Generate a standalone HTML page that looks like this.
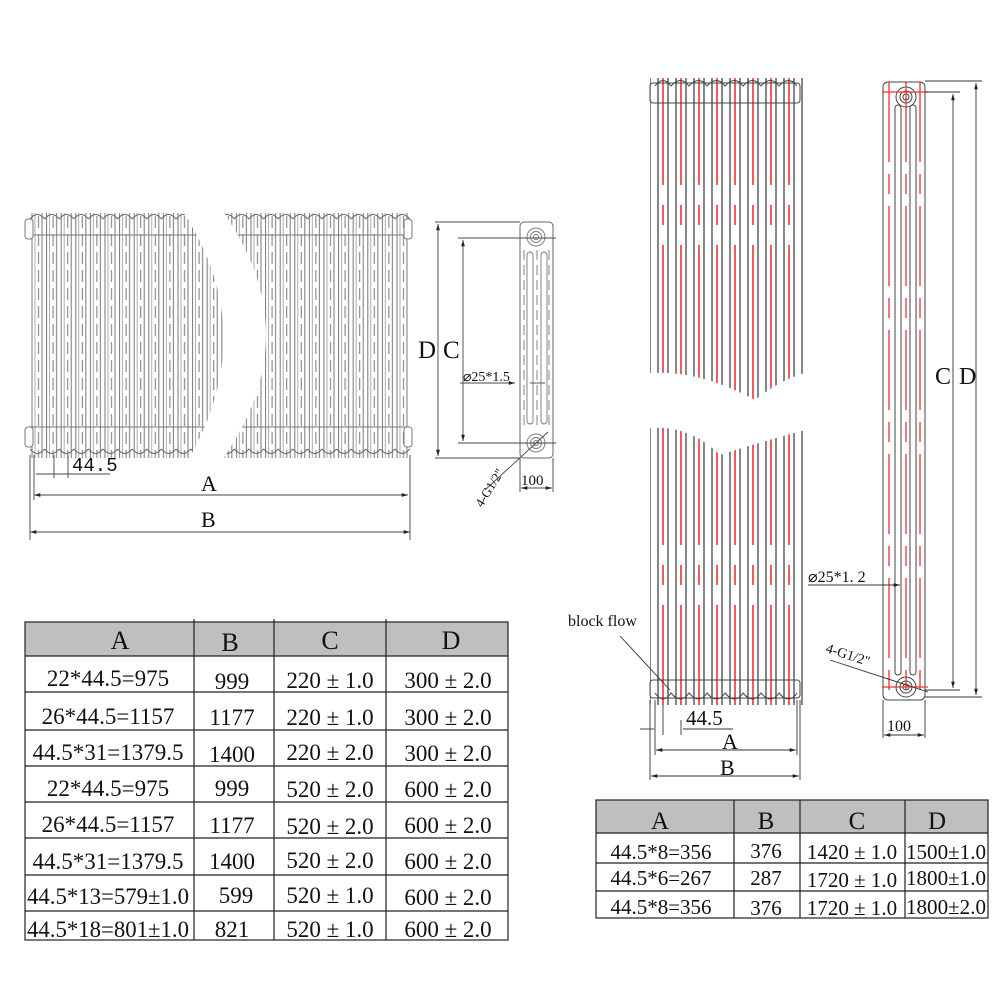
<!DOCTYPE html>
<html><head><meta charset="utf-8"><style>
html,body{margin:0;padding:0;background:#fff}
svg{display:block}
text{font-family:"Liberation Serif","Noto Serif CJK SC",serif;fill:#111}
.mono{font-family:"Liberation Mono",monospace}
</style></head><body>
<svg width="1001" height="1001" viewBox="0 0 1001 1001" xmlns="http://www.w3.org/2000/svg">
<defs>
<pattern id="tubeL" patternUnits="userSpaceOnUse" x="30" y="0" width="14.6" height="1000">
<line x1="2" y1="0" x2="2" y2="1000" stroke="#777" stroke-width="1"/>
<line x1="5" y1="0" x2="5" y2="1000" stroke="#999" stroke-width="0.8"/>
<line x1="12" y1="0" x2="12" y2="1000" stroke="#777" stroke-width="1"/>
<line x1="8.5" y1="0" x2="8.5" y2="1000" stroke="#777" stroke-width="1" stroke-dasharray="12,6"/>
</pattern>
<pattern id="scL1" patternUnits="userSpaceOnUse" x="30" y="213" width="14.6" height="30">
<path d="M0,6 Q7.3,-3 14.6,6" fill="none" stroke="#666"/>
<line x1="0" y1="22" x2="14.6" y2="22" stroke="#777"/>
</pattern>
<pattern id="scL2" patternUnits="userSpaceOnUse" x="30" y="425" width="14.6" height="32">
<line x1="0" y1="2" x2="14.6" y2="2" stroke="#777"/>
<path d="M0,24 Q7.3,33 14.6,24" fill="none" stroke="#666"/>
</pattern>
<pattern id="tubeR" patternUnits="userSpaceOnUse" x="654" y="0" width="18" height="1000">
<line x1="4" y1="0" x2="4" y2="1000" stroke="#444" stroke-width="1.3"/>
<line x1="14" y1="0" x2="14" y2="1000" stroke="#444" stroke-width="1.3"/>
<line x1="9" y1="0" x2="9" y2="1000" stroke="#e33" stroke-width="1.6" stroke-dasharray="185,20,20,20,300,20,20,20,200"/>
</pattern>
<clipPath id="cl1"><path d="M25,210 L182,210 Q262,332 188,460 L25,460 Z"/></clipPath>
<clipPath id="cl2"><path d="M222,210 L412,210 L412,460 L222,460 Q310,335 222,210 Z"/></clipPath>
<clipPath id="cr1"><path d="M650,78 L805,78 L805,373 Q780,380 755,400 Q700,370 650,373 Z"/></clipPath>
<clipPath id="cr2"><path d="M650,428 Q690,425 720,455 Q750,445 805,430 L805,705 L650,705 Z"/></clipPath>
<marker id="ar" viewBox="0 0 10 10" refX="10" refY="5" markerWidth="7" markerHeight="7" orient="auto-start-reverse"><path d="M0,2 L10,5 L0,8 Z" fill="#222"/></marker>
</defs>

<g clip-path="url(#cl1)">
<rect x="30" y="213" width="380" height="245" fill="url(#tubeL)"/>
<rect x="30" y="213" width="380" height="30" fill="url(#scL1)"/>
<rect x="30" y="425" width="380" height="32" fill="url(#scL2)"/>
</g>
<g clip-path="url(#cl2)">
<rect x="30" y="213" width="380" height="245" fill="url(#tubeL)"/>
<rect x="30" y="213" width="380" height="30" fill="url(#scL1)"/>
<rect x="30" y="425" width="380" height="32" fill="url(#scL2)"/>
</g>
<rect x="25" y="219" width="8" height="20" rx="3" fill="#fff" stroke="#777"/>
<rect x="25" y="427" width="8" height="20" rx="3" fill="#fff" stroke="#777"/>
<rect x="404" y="219" width="8" height="20" rx="3" fill="#fff" stroke="#777"/>
<rect x="404" y="427" width="8" height="20" rx="3" fill="#fff" stroke="#777"/>
<g stroke="#444" stroke-width="0.9" fill="none">
<line x1="30" y1="455" x2="30" y2="540"/><line x1="410" y1="455" x2="410" y2="540"/>
<line x1="34" y1="455" x2="34" y2="500"/><line x1="54" y1="455" x2="54" y2="478"/><line x1="68" y1="455" x2="68" y2="478"/>
<line x1="36" y1="474" x2="110" y2="474"/>
<line x1="34" y1="495" x2="408" y2="495" marker-start="url(#ar)" marker-end="url(#ar)"/>
<line x1="30" y1="532" x2="410" y2="532" marker-start="url(#ar)" marker-end="url(#ar)"/>
</g>
<text x="72" y="471" font-size="19" class="mono">44.5</text>
<text x="201" y="491" font-size="22">A</text>
<text x="201" y="527" font-size="22">B</text>

<rect x="520" y="222" width="33" height="236" rx="4" fill="#fff" stroke="#666"/>
<g stroke="#777" fill="none" stroke-width="0.9">
<rect x="527" y="252" width="6" height="172" rx="3"/>
<rect x="541" y="252" width="6" height="172" rx="3"/>
<line x1="524" y1="250" x2="524" y2="430" stroke-dasharray="10,5"/>
<line x1="537" y1="250" x2="537" y2="430" stroke-dasharray="10,5"/>
<line x1="549" y1="250" x2="549" y2="430" stroke-dasharray="10,5"/>
<circle cx="536" cy="237" r="9"/><circle cx="536" cy="237" r="5.5"/><circle cx="536" cy="237" r="2.5"/>
<circle cx="536" cy="443" r="9"/><circle cx="536" cy="443" r="5.5"/><circle cx="536" cy="443" r="2.5"/>
</g>
<g stroke="#444" stroke-width="0.9" fill="none">
<line x1="435" y1="222" x2="520" y2="222"/><line x1="435" y1="458" x2="520" y2="458"/>
<line x1="458" y1="238" x2="556" y2="238"/><line x1="458" y1="443" x2="556" y2="443"/>
<line x1="438" y1="224" x2="438" y2="456" marker-start="url(#ar)" marker-end="url(#ar)"/>
<line x1="463" y1="240" x2="463" y2="441" marker-start="url(#ar)" marker-end="url(#ar)"/>
<line x1="460" y1="383" x2="515" y2="383" marker-end="url(#ar)"/><line x1="530" y1="383" x2="545" y2="383"/>
<line x1="520" y1="458" x2="520" y2="492"/><line x1="553" y1="458" x2="553" y2="492"/>
<line x1="521" y1="488" x2="552" y2="488" marker-start="url(#ar)" marker-end="url(#ar)"/>
<line x1="485" y1="490" x2="548" y2="432"/>
</g>
<text x="418" y="358" font-size="25">D</text>
<text x="443" y="358" font-size="25">C</text>
<text x="463" y="381" font-size="14">⌀25*1.5</text>
<text x="521" y="485" font-size="15">100</text>
<text x="0" y="0" font-size="13" transform="translate(482,508) rotate(-58)">4-G1/2"</text>

<g clip-path="url(#cr1)">
<rect x="650" y="78" width="155" height="330" fill="url(#tubeR)"/>
</g>
<g clip-path="url(#cr2)">
<rect x="650" y="425" width="155" height="280" fill="url(#tubeR)"/>
</g>
<g fill="none" stroke="#444" stroke-width="1">
<rect x="650" y="83" width="150" height="20" rx="3"/>
<rect x="650" y="680" width="150" height="18" rx="3"/>
</g>
<path d="M655,86 Q663,75 671,86 Q681,75 689,86 Q699,75 707,86 Q717,75 725,86 Q735,75 743,86 Q753,75 761,86 Q771,75 779,86 Q789,75 797,86" fill="none" stroke="#444"/>
<path d="M655,693 Q663,705 671,693 Q681,705 689,693 Q699,705 707,693 Q717,705 725,693 Q735,705 743,693 Q753,705 761,693 Q771,705 779,693 Q789,705 797,693" fill="none" stroke="#444"/>
<g stroke="#333" stroke-width="0.9" fill="none">
<line x1="650" y1="700" x2="650" y2="780"/><line x1="800" y1="700" x2="800" y2="780"/>
<line x1="655" y1="700" x2="655" y2="755"/><line x1="797" y1="700" x2="797" y2="755"/>
<line x1="663" y1="705" x2="663" y2="735"/><line x1="681" y1="720" x2="681" y2="735"/>
<line x1="640" y1="729" x2="654" y2="729"/><line x1="683" y1="729" x2="733" y2="729"/>
<line x1="656" y1="750" x2="796" y2="750" marker-start="url(#ar)" marker-end="url(#ar)"/>
<line x1="651" y1="776" x2="799" y2="776" marker-start="url(#ar)" marker-end="url(#ar)"/>
<line x1="620" y1="636" x2="670" y2="690"/>
</g>
<text x="686" y="725" font-size="21">44.5</text>
<text x="722" y="749" font-size="22">A</text>
<text x="720" y="775" font-size="22">B</text>
<text x="568" y="626" font-size="16">block  flow</text>

<rect x="883" y="82" width="42" height="618" rx="5" fill="#fff" stroke="#444"/>
<g stroke="#444" fill="none" stroke-width="1">
<rect x="895" y="105" width="6" height="570" rx="3"/>
<rect x="910" y="105" width="6" height="570" rx="3"/>
<circle cx="906" cy="97" r="10"/><circle cx="906" cy="97" r="6"/><circle cx="906" cy="97" r="3"/>
<circle cx="906" cy="687" r="10"/><circle cx="906" cy="687" r="6"/><circle cx="906" cy="687" r="3"/>
</g>
<g stroke="#e33" stroke-width="1.3" fill="none">
<line x1="889" y1="82" x2="889" y2="700" stroke-dasharray="80,12,20,12"/>
<line x1="906" y1="82" x2="906" y2="700" stroke-dasharray="80,12,20,12"/>
<line x1="920" y1="82" x2="920" y2="700" stroke-dasharray="80,12,20,12"/>
<line x1="882" y1="92" x2="928" y2="92"/><line x1="882" y1="687" x2="928" y2="687"/>
</g>
<g stroke="#333" stroke-width="0.9" fill="none">
<line x1="925" y1="81" x2="982" y2="81"/><line x1="925" y1="697" x2="982" y2="697"/>
<line x1="925" y1="92" x2="960" y2="92"/><line x1="925" y1="690" x2="960" y2="690"/>
<line x1="953" y1="94" x2="953" y2="688" marker-start="url(#ar)" marker-end="url(#ar)"/>
<line x1="976" y1="83" x2="976" y2="695" marker-start="url(#ar)" marker-end="url(#ar)"/>
<line x1="808" y1="585" x2="900" y2="585" marker-end="url(#ar)"/>
<line x1="883" y1="700" x2="883" y2="738"/><line x1="925" y1="700" x2="925" y2="738"/>
<line x1="884" y1="735" x2="924" y2="735" marker-start="url(#ar)" marker-end="url(#ar)"/>
<line x1="830" y1="660" x2="928" y2="692"/>
</g>
<text x="935" y="384" font-size="24">C</text>
<text x="959" y="384" font-size="24">D</text>
<text x="808" y="582" font-size="16">⌀25*1. 2</text>
<text x="887" y="731" font-size="16">100</text>
<text x="0" y="0" font-size="14" transform="translate(825,652) rotate(18)">4-G1/2"</text>

<rect x="25" y="622" width="483" height="34" fill="#bfbfbf"/>
<g stroke="#222" stroke-width="1.2" fill="none">
<rect x="25" y="622" width="483" height="318"/>
<line x1="194" y1="619" x2="194" y2="940"/><line x1="274" y1="619" x2="274" y2="940"/><line x1="386" y1="619" x2="386" y2="940"/>
<line x1="25" y1="656" x2="508" y2="656"/><line x1="25" y1="692" x2="508" y2="692"/>
<line x1="25" y1="730" x2="508" y2="730"/><line x1="25" y1="766" x2="508" y2="766"/>
<line x1="25" y1="802" x2="508" y2="802"/><line x1="25" y1="838" x2="508" y2="838"/>
<line x1="25" y1="875" x2="508" y2="875"/><line x1="25" y1="911" x2="508" y2="911"/>
</g>
<g font-size="26" text-anchor="middle">
<text x="120" y="649">A</text><text x="230" y="651">B</text><text x="330" y="649">C</text><text x="451" y="649">D</text>
</g>
<g font-size="23" text-anchor="middle">
<text x="108" y="686">22*44.5=975</text><text x="232" y="689">999</text><text x="330" y="688">220 ± 1.0</text><text x="448" y="688">300 ± 2.0</text>
<text x="108" y="724">26*44.5=1157</text><text x="232" y="725">1177</text><text x="330" y="725">220 ± 1.0</text><text x="448" y="725">300 ± 2.0</text>
<text x="108" y="760">44.5*31=1379.5</text><text x="232" y="762">1400</text><text x="330" y="760">220 ± 2.0</text><text x="448" y="761">300 ± 2.0</text>
<text x="108" y="796">22*44.5=975</text><text x="232" y="796">999</text><text x="330" y="797">520 ± 2.0</text><text x="448" y="797">600 ± 2.0</text>
<text x="108" y="832">26*44.5=1157</text><text x="232" y="833">1177</text><text x="330" y="834">520 ± 2.0</text><text x="448" y="833">600 ± 2.0</text>
<text x="108" y="869">44.5*31=1379.5</text><text x="232" y="869">1400</text><text x="330" y="868">520 ± 2.0</text><text x="448" y="869">600 ± 2.0</text>
<text x="108" y="904" textLength="162" lengthAdjust="spacingAndGlyphs">44.5*13=579±1.0</text><text x="236" y="903">599</text><text x="330" y="903">520 ± 1.0</text><text x="448" y="905">600 ± 2.0</text>
<text x="108" y="937" textLength="162" lengthAdjust="spacingAndGlyphs">44.5*18=801±1.0</text><text x="232" y="937">821</text><text x="330" y="937">520 ± 1.0</text><text x="448" y="937">600 ± 2.0</text>
</g>

<rect x="596" y="800" width="392" height="33" fill="#bfbfbf"/>
<g stroke="#222" stroke-width="1.2" fill="none">
<rect x="596" y="800" width="392" height="118"/>
<line x1="734" y1="800" x2="734" y2="918"/><line x1="800" y1="800" x2="800" y2="918"/><line x1="905" y1="800" x2="905" y2="918"/>
<line x1="596" y1="833" x2="988" y2="833"/><line x1="596" y1="863" x2="988" y2="863"/><line x1="596" y1="891" x2="988" y2="891"/>
</g>
<g font-size="25" text-anchor="middle">
<text x="660" y="829">A</text><text x="766" y="829">B</text><text x="857" y="829">C</text><text x="937" y="829">D</text>
</g>
<g font-size="21" text-anchor="middle">
<text x="661" y="859">44.5*8=356</text><text x="766" y="858">376</text><text x="852" y="859">1420 ± 1.0</text><text x="946" y="859" textLength="80" lengthAdjust="spacingAndGlyphs">1500±1.0</text>
<text x="661" y="885">44.5*6=267</text><text x="766" y="885">287</text><text x="852" y="887">1720 ± 1.0</text><text x="946" y="885" textLength="80" lengthAdjust="spacingAndGlyphs">1800±1.0</text>
<text x="661" y="914">44.5*8=356</text><text x="766" y="915">376</text><text x="852" y="915">1720 ± 1.0</text><text x="946" y="914" textLength="80" lengthAdjust="spacingAndGlyphs">1800±2.0</text>
</g>
</svg>
</body></html>
